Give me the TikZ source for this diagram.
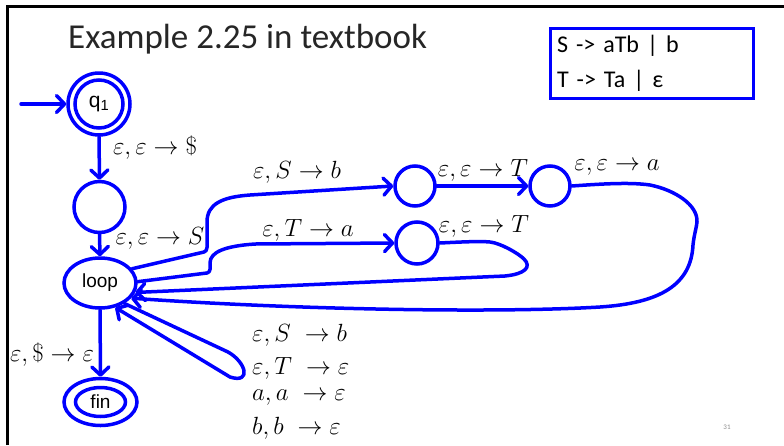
\documentclass[tikz,border=0pt]{standalone}
\usepackage{fontspec}
\setmainfont{Carlito}
\newfontfamily\arialfont{Liberation Sans}
\usetikzlibrary{arrows.meta,shapes.geometric}
\begin{document}
\begin{tikzpicture}[x=1pt,y=-1pt,
  st/.style={draw=blue, line width=3.5pt, circle, inner sep=0pt},
  arr/.style={draw=blue, line width=3.5pt, line cap=round, line join=round,
    -{Straight Barb[length=8pt,width=17pt,round]}},
  lab/.style={font=\fontsize{24}{28}\selectfont, inner sep=0pt},
  nlab/.style={font=\arialfont\fontsize{19}{22}\selectfont},
]
\useasboundingbox (0,0) rectangle (784,445);
\fill[white] (0,0) rectangle (784,445);
\draw[line width=3pt, line join=miter] (7,445) -- (7,6) -- (784,6);

% title
\node[font=\fontsize{35}{40}\selectfont, text=black!85, anchor=base west, inner sep=0pt] (title) at (68,48) {Example 2.25 in textbook};

% grammar box
\node[draw=blue, line width=3pt, anchor=north west, minimum width=203pt, minimum height=70pt,
  text width=190pt, align=left, inner xsep=6pt, inner ysep=2pt,
  font=\fontsize{24}{35}\selectfont] (gram) at (549,27) {S -> aTb | b\\T -> Ta | ε};

% states
\node[st, minimum size=62pt, font=\arialfont\fontsize{21}{24}\selectfont] (q1) at (99,104) {q\textsubscript{1}};
\draw[blue, line width=3.5pt] (q1.center) circle (24pt);
\node[st, minimum size=51pt] (m1) at (99.5,207) {};
\node[st, shape=ellipse, minimum width=72pt, minimum height=50pt, nlab] (loop) at (100,283) {loop};
\node[st, shape=ellipse, minimum width=73pt, minimum height=47pt, nlab] (fin) at (100.5,402) {fin};
\draw[blue, line width=3.5pt] (fin.center) ellipse (25pt and 14.5pt);
\node[st, minimum size=40pt] (A) at (415,186) {};
\node[st, minimum size=40pt] (B) at (550,186) {};
\node[st, minimum size=42pt] (C) at (417,243) {};

\coordinate (start) at (21,104);

% edges
\draw[arr] (start) -- (q1);
\draw[arr] (q1.south) -- (m1.north);
\draw[arr] (m1.south) -- (loop.north);
\draw[arr] (loop.south) -- (fin.north);
\draw[arr] (A) -- (B);

\draw[arr] (loop.24) -- (204,252) .. controls (208,251) and (207,246) .. (207,238)
  -- (207,222) .. controls (207,204) and (222,197) .. (250,195) -- (A.west);
\draw[arr] (loop.2) -- (207,273) .. controls (211,272) and (210,268) .. (210,263)
  .. controls (210,252) and (225,246) .. (255,244) -- (C.west);

\draw[arr] (C.east) .. controls (460,242) and (480,241) .. (490,242)
  .. controls (500,243) and (518,253) .. (524,259)
  .. controls (532,267) and (525,274) .. (505,276) -- (loop.-15);
\draw[arr] (B.east) .. controls (600,184) and (630,182) .. (650,185)
  .. controls (675,190) and (698,205) .. (697,222)
  .. controls (696,230) and (694,235) .. (693,245)
  .. controls (691,285) and (660,303) .. (600,307)
  .. controls (500,313) and (300,310) .. (loop.-26);
\draw[arr] (loop.-40) -- (228,352) .. controls (246,362) and (252,384) .. (230,377) -- (loop.-58);

% labels
\node[lab] (l1) at (155,148) {$\varepsilon,\varepsilon\to\$$};
\node[lab] (l2) at (160,238) {$\varepsilon,\varepsilon\to S$};
\node[lab] (l3) at (297,172) {$\varepsilon,S\to b$};
\node[lab] (l4) at (308,230) {$\varepsilon,T\to a$};
\node[lab] (l5) at (483,170) {$\varepsilon,\varepsilon\to T$};
\node[lab] (l6) at (617,168) {$\varepsilon,\varepsilon\to a$};
\node[lab] (l7) at (484,226) {$\varepsilon,\varepsilon\to T$};
\node[lab] (l8) at (52,355) {$\varepsilon,\$\to\varepsilon$};
\node[lab, anchor=west] (s1) at (252,335) {$\varepsilon,S\;\to b$};
\node[lab, anchor=west] (s2) at (252,368) {$\varepsilon,T\;\to \varepsilon$};
\node[lab, anchor=west] (s3) at (252,398) {$a,a\;\to \varepsilon$};
\node[lab, anchor=west] (s4) at (252,428) {$b,b\;\to \varepsilon$};

\node[text=black!45, font=\fontsize{7}{8}\selectfont] (pg) at (727,427) {31};
\end{tikzpicture}
\end{document}
